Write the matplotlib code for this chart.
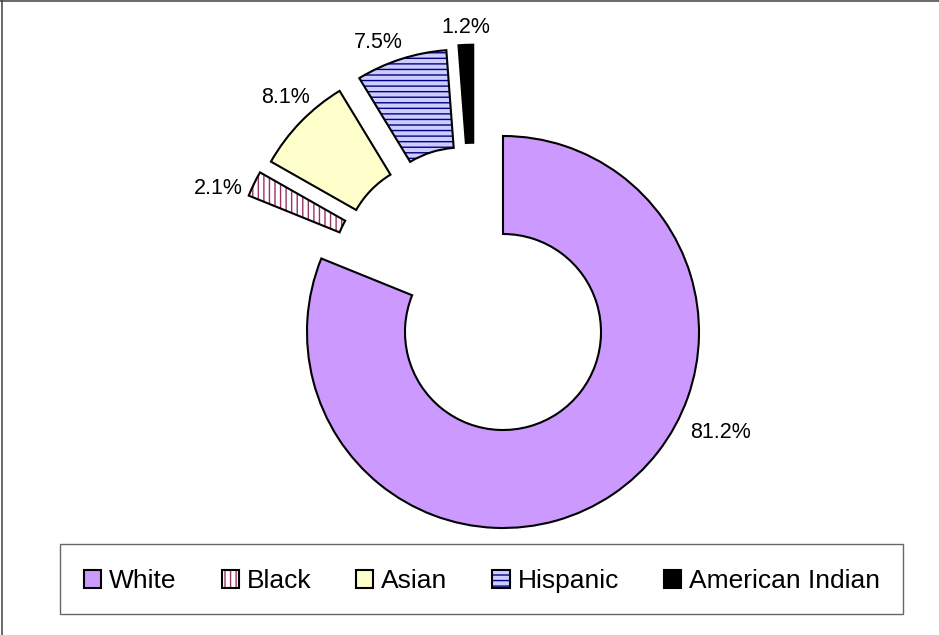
import numpy as np
import matplotlib
matplotlib.use("Agg")
import matplotlib.pyplot as plt
from matplotlib.patches import Wedge, Patch, Rectangle
from matplotlib.legend_handler import HandlerTuple
from matplotlib.lines import Line2D

plt.rcParams['font.family'] = ['Liberation Sans', 'DejaVu Sans']
plt.rcParams['hatch.linewidth'] = 1.0

# ethnic makeup, in percent
groups = ['White', 'Black', 'Asian', 'Hispanic', 'American Indian']
shares = [81.2, 2.1, 8.1, 7.5, 1.2]
labels = ['81.2%', '2.1%', '8.1%', '7.5%', '1.2%']
exploded = [False, True, True, True, True]

# fill, hatch colour, hatch pattern
fills = ['#CC99FF', 'white', '#FFFFCC', '#CCCCFF', 'black']
hatch_colors = ['#CC99FF', '#993366', '#FFFFCC', '#000080', 'black']
hatches = [None, '|||', None, '---', None]

# small hand tweaks for the value labels (px, x right / y down)
label_nudge = [(3, -10), (-2, 9), (16, -7), (5, 3), (0, 3)]

W, H = 939, 635
fig = plt.figure(figsize=(W / 100, H / 100), dpi=100)
ax = fig.add_axes([0, 0, 1, 1])
ax.set_xlim(0, W)
ax.set_ylim(0, H)
ax.axis('off')

cx, cy = 503, H - 332
R = 196
ring = 98
explode_dist = 96

total = sum(shares)
spans = [360 * s / total for s in shares]
starts = 90 - np.concatenate([[0], np.cumsum(spans)[:-1]])

# angular middle of the pulled-out group, used to bend the explode direction
ex_idx = [i for i, e in enumerate(exploded) if e]
grp_mid = (starts[ex_idx[0]] + starts[ex_idx[-1]] - spans[ex_idx[-1]]) / 2

for i, name in enumerate(groups):
    t2 = starts[i]
    t1 = t2 - spans[i]
    mid = (t1 + t2) / 2
    ox, oy = cx, cy
    if exploded[i]:
        d = np.radians((mid + grp_mid) / 2)
        ox += explode_dist * np.cos(d)
        oy += explode_dist * np.sin(d)

    ax.add_patch(Wedge((ox, oy), R, t1, t2, width=ring, facecolor=fills[i],
                       edgecolor=hatch_colors[i], hatch=hatches[i], lw=0))
    ax.add_patch(Wedge((ox, oy), R, t1, t2, width=ring, fill=False,
                       edgecolor='black', lw=1.5))

    # value label just outside the outer arc
    if exploded[i]:
        a = np.radians(mid)
        pad = 10
        lx = ox + (R + pad) * np.cos(a)
        ly = oy + (R + pad) * np.sin(a)
        ha = 'right' if np.cos(a) < -0.3 else 'center'
        va = 'bottom' if np.sin(a) > 0.5 else 'center'
    else:
        a = np.radians(-31)
        lx = ox + (R + 19) * np.cos(a)
        ly = oy + (R + 19) * np.sin(a)
        ha, va = 'left', 'center'
    nx, ny = label_nudge[i]
    ax.text(lx + nx, ly - ny, labels[i], fontsize=15.5, ha=ha, va=va)

# legend
handles = []
for i in range(len(groups)):
    base = Patch(facecolor=fills[i], edgecolor=hatch_colors[i], hatch=hatches[i], lw=0)
    rim = Patch(fill=False, edgecolor='black', lw=1.5)
    handles.append((base, rim))

ax.add_patch(Rectangle((60, H - 614), 843, 70, fill=False, edgecolor='#666666', lw=1.0))
ax.legend(handles, groups, handler_map={tuple: HandlerTuple(ndivide=1, pad=0)},
          ncol=5, frameon=False, fontsize=19, loc='center',
          bbox_to_anchor=(482, H - 581), bbox_transform=ax.transData,
          handlelength=0.65, handleheight=0.65, handletextpad=0.3,
          columnspacing=1.7, borderpad=0)

# outer chart frame
ax.add_line(Line2D([1.5, 1.5], [0, H], color='#404040', lw=1.1))
ax.add_line(Line2D([0, W], [H - 1, H - 1], color='#404040', lw=1.1))

fig.savefig('out.png', dpi=100)
